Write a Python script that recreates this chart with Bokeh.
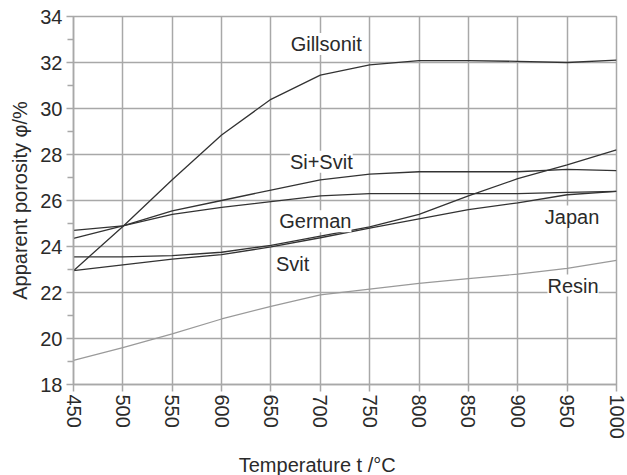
from bokeh.plotting import figure
from bokeh.models import Range1d, FixedTicker, ColumnDataSource, LabelSet
from bokeh.core.properties import value
from bokeh.embed import file_html
from bokeh.resources import INLINE

temperature = [450, 500, 550, 600, 650, 700, 750, 800, 850, 900, 950, 1000]
gillsonit = [22.95, 24.87, 26.9, 28.85, 30.4, 31.45, 31.9, 32.08, 32.08, 32.05, 32.0, 32.1]
si_svit = [24.35, 24.9, 25.55, 26.0, 26.45, 26.9, 27.15, 27.25, 27.25, 27.25, 27.35, 27.3]
german = [24.7, 24.9, 25.4, 25.7, 25.95, 26.2, 26.3, 26.3, 26.3, 26.3, 26.35, 26.4]
japan = [23.55, 23.55, 23.6, 23.75, 24.05, 24.45, 24.85, 25.4, 26.2, 26.95, 27.55, 28.2]
svit = [22.95, 23.2, 23.45, 23.65, 23.98, 24.38, 24.8, 25.2, 25.6, 25.9, 26.25, 26.4]
resin = [19.05, 19.6, 20.2, 20.85, 21.4, 21.9, 22.15, 22.4, 22.6, 22.8, 23.05, 23.4]

series_names = ["Gillsonit", "Si+Svit", "German", "Japan", "Svit", "Resin"]
label_x = [706, 701, 695, 955, 672, 956]
label_y = [32.8, 27.68, 25.1, 25.3, 23.23, 22.3]

x_ticks = [450, 500, 550, 600, 650, 700, 750, 800, 850, 900, 950, 1000]
y_ticks = [18, 20, 22, 24, 26, 28, 30, 32, 34]

FONT = "Liberation Sans"
GRID = "#a8a8a8"
TXT = "#2a2a2a"

p = figure(width=627, height=475, output_backend="svg", toolbar_location=None,
           x_range=Range1d(450, 1000), y_range=Range1d(18, 34),
           min_border_left=73, min_border_right=11, min_border_top=16, min_border_bottom=91)
p.frame_width = 543
p.frame_height = 368

p.outline_line_color = GRID
p.outline_line_width = 1.5
p.background_fill_color = "white"
p.border_fill_color = "white"

p.xaxis.ticker = FixedTicker(ticks=x_ticks)
p.yaxis.ticker = FixedTicker(ticks=y_ticks, minor_ticks=[19, 21, 23, 25, 27, 29, 31, 33])
p.xgrid.ticker = FixedTicker(ticks=x_ticks)
p.ygrid.ticker = FixedTicker(ticks=y_ticks)

for g in (p.xgrid, p.ygrid):
    g.grid_line_color = GRID
    g.grid_line_width = 1.5

for ax in (p.xaxis, p.yaxis):
    ax.axis_line_color = GRID
    ax.axis_line_width = 1.5
    ax.major_tick_line_color = GRID
    ax.major_tick_line_width = 1.5
    ax.major_tick_out = 7
    ax.major_tick_in = 0
    ax.major_label_text_font = FONT
    ax.major_label_text_font_size = "20px"
    ax.major_label_text_color = TXT
    ax.axis_label_text_font = FONT
    ax.axis_label_text_font_size = "20px"
    ax.axis_label_text_font_style = "normal"
    ax.axis_label_text_color = TXT

p.xaxis.minor_tick_line_color = None
p.yaxis.minor_tick_line_color = GRID
p.yaxis.minor_tick_line_width = 1.5
p.yaxis.minor_tick_out = 6
p.yaxis.minor_tick_in = 0

p.xaxis.major_label_orientation = "vertical"
p.xaxis.major_label_standoff = 3
p.yaxis.major_label_standoff = 4

p.xaxis.axis_label = "Temperature  t /°C" + "\u00a0" * 9
p.yaxis.axis_label = "Apparent porosity φ/%"
p.xaxis.axis_label_standoff = 12
p.yaxis.axis_label_standoff = 6

dark = "#333333"
for ys in (gillsonit, si_svit, german, japan, svit):
    p.line(temperature, ys, line_color=dark, line_width=1.3)
p.line(temperature, resin, line_color="#9a9a9a", line_width=1.2)

src = ColumnDataSource(dict(x=label_x, y=label_y, t=series_names))
labels = LabelSet(x="x", y="y", text="t", source=src, text_align="center",
                  text_baseline="middle", text_font=value(FONT), text_font_size=value("20px"),
                  text_color=TXT, background_fill_color="white")
p.add_layout(labels)

open("out.html", "w").write(file_html(p, INLINE))
